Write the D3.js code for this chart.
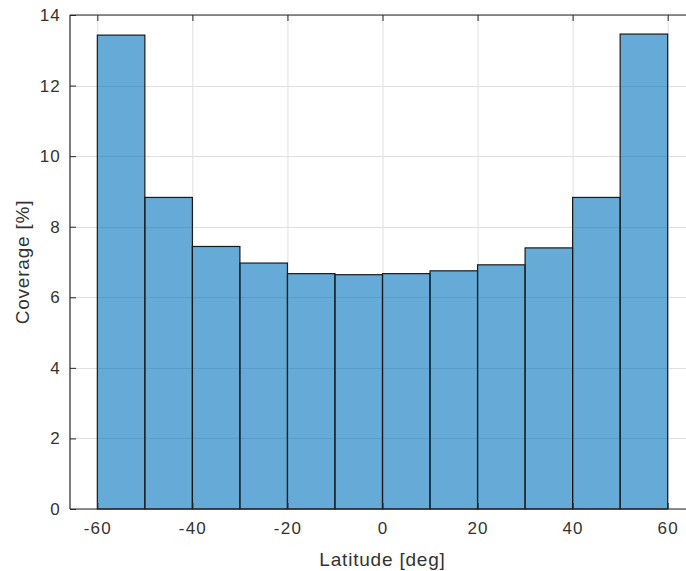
<!DOCTYPE html>
<html>
<head>
<meta charset="utf-8">
<script src="https://cdn.jsdelivr.net/npm/d3@7"></script>
<style>
  body { margin: 0; background: #fff; }
  svg { display: block; }
  text { font-family: "Liberation Sans", Arial, sans-serif; fill: #333; }
</style>
</head>
<body>
<div id="wrapper"></div>
<script>
// bin edges (deg) and coverage per bin (%)
const binStarts = [-60, -50, -40, -30, -20, -10, 0, 10, 20, 30, 40, 50]
const binWidth = 10
const coverage = [13.43, 8.83, 7.44, 6.97, 6.67, 6.64, 6.67, 6.75, 6.92, 7.40, 8.83, 13.46]
const xTicks = [-60, -40, -20, 0, 20, 40, 60]
const yTicks = [0, 2, 4, 6, 8, 10, 12, 14]

function drawHistogram() {
  const width = 686
  const height = 571
  const left = 70, top = 15, bottom = 509, right = 695

  const svg = d3.select("#wrapper").append("svg")
    .attr("width", width)
    .attr("height", height)

  const xScale = d3.scaleLinear()
    .domain([-65.75, 65.75])
    .range([left, right])

  const yScale = d3.scaleLinear()
    .domain([0, 14])
    .range([bottom, top])

  // grid
  const grid = svg.append("g")
  grid.selectAll(".gx").data(xTicks).join("line")
    .attr("x1", d => xScale(d) + 0.5).attr("x2", d => xScale(d) + 0.5)
    .attr("y1", top).attr("y2", bottom)
    .attr("stroke", "#dfdfdf").attr("stroke-width", 1)
  grid.selectAll(".gy").data(yTicks).join("line")
    .attr("x1", left).attr("x2", right)
    .attr("y1", d => Math.round(yScale(d)) + 0.5).attr("y2", d => Math.round(yScale(d)) + 0.5)
    .attr("stroke", "#dfdfdf").attr("stroke-width", 1)

  // bars
  svg.append("g").selectAll("rect")
    .data(binStarts)
    .join("rect")
      .attr("x", d => xScale(d))
      .attr("y", (d, i) => yScale(coverage[i]))
      .attr("width", xScale(binWidth) - xScale(0))
      .attr("height", (d, i) => yScale(0) - yScale(coverage[i]))
      .attr("fill", "rgba(0,114,189,0.6)")
      .attr("stroke", "#1a1a1a")
      .attr("stroke-width", 1.2)

  // axes (plain hyphen for negatives, like the original)
  const fmt = d => String(d)
  const xAxisBottom = d3.axisBottom(xScale).tickValues(xTicks).tickFormat(fmt).tickSize(-6).tickPadding(13)
  const xAxisTop = d3.axisTop(xScale).tickValues(xTicks).tickSize(-6).tickFormat("")
  const yAxisLeft = d3.axisLeft(yScale).tickValues(yTicks).tickFormat(fmt).tickSize(-6).tickPadding(9)

  const styleAxis = g => {
    g.selectAll(".domain").attr("stroke", "#262626").attr("stroke-width", 1.2)
    g.selectAll(".tick line").attr("stroke", "#262626")
    g.selectAll(".tick text").attr("fill", "#333")
      .style("font-family", "'Liberation Sans', Arial, sans-serif")
      .style("font-size", "17px")
      .style("letter-spacing", "1.2px")
  }

  svg.append("g")
    .attr("transform", `translate(0,${bottom})`)
    .call(xAxisBottom)
    .call(styleAxis)
    .call(g => g.select(".domain").attr("d", `M${left},0H${right}`))

  svg.append("g")
    .attr("transform", `translate(0,${top})`)
    .call(xAxisTop)
    .call(styleAxis)
    .call(g => g.select(".domain").attr("d", `M${left},0H${right}`))

  svg.append("g")
    .attr("transform", `translate(${left},0)`)
    .call(yAxisLeft)
    .call(styleAxis)
    .call(g => g.select(".domain").attr("d", `M0,${top}V${bottom}`))

  // labels
  svg.append("text")
    .attr("x", xScale(0))
    .attr("y", 566)
    .attr("text-anchor", "middle")
    .style("font-size", "19px")
    .style("letter-spacing", "0.8px")
    .text("Latitude [deg]")

  svg.append("text")
    .attr("transform", `translate(29,${(top + bottom) / 2}) rotate(-90)`)
    .attr("text-anchor", "middle")
    .style("font-size", "19px")
    .style("letter-spacing", "0.8px")
    .text("Coverage [%]")
}

drawHistogram()
</script>
</body>
</html>
